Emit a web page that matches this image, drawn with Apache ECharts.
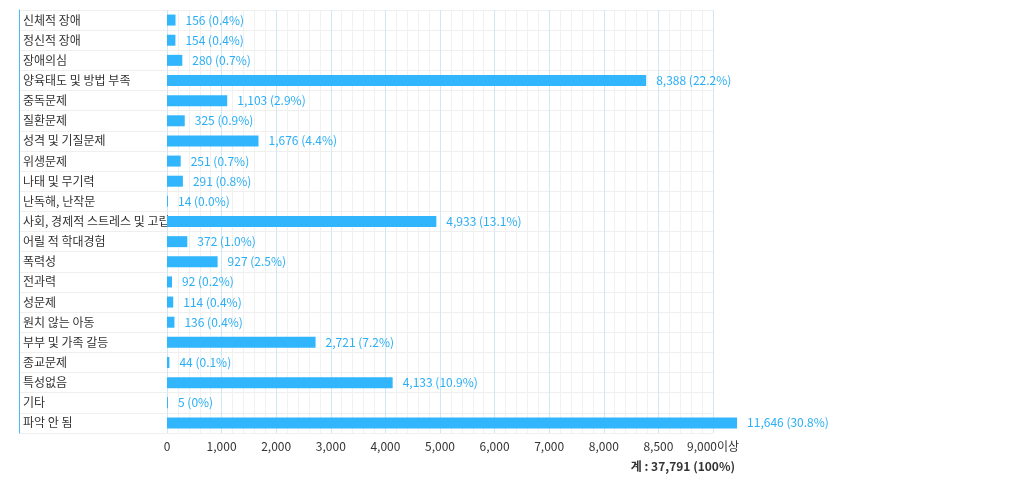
<!DOCTYPE html>
<html>
<head>
<meta charset="utf-8">
<script src="https://cdn.jsdelivr.net/npm/echarts@6/dist/echarts.min.js"></script>
<style>
  html, body { margin: 0; padding: 0; background: #fff; }
  #chart { width: 1030px; height: 483px; }
</style>
</head>
<body>
<div id="chart"></div>
<script>
const categories = [
  '신체적 장애', '정신적 장애', '장애의심', '양육태도 및 방법 부족', '중독문제',
  '질환문제', '성격 및 기질문제', '위생문제', '나태 및 무기력', '난독해, 난작문',
  '사회, 경제적 스트레스 및 고립', '어릴 적 학대경험', '폭력성', '전과력', '성문제',
  '원치 않는 아동', '부부 및 가족 갈등', '종교문제', '특성없음', '기타', '파악 안 됨'
]
const counts = [156, 154, 280, 8388, 1103, 325, 1676, 251, 291, 14, 4933, 372, 927, 92, 114, 136, 2721, 44, 4133, 5, 11646]
const percents = ['0.4', '0.4', '0.7', '22.2', '2.9', '0.9', '4.4', '0.7', '0.8', '0.0', '13.1', '1.0', '2.5', '0.2', '0.4', '0.4', '7.2', '0.1', '10.9', '0', '30.8']
const tickLabels = ['0', '1,000', '2,000', '3,000', '4,000', '5,000', '6,000', '7,000', '8,000', '8,500', '9,000이상']
const totalText = '계 : 37,791 (100%)'

// broken value scale: the axis is even up to 8,000, then 8,500 and 9,000이상
const scaleDomain = [0, 8000, 8500, 9000, 12000]
const scaleRange = [0, 8, 9, 10, 10.5]

const toAxis = (v) => {
  for (let i = 1; i < scaleDomain.length; i++) {
    if (v <= scaleDomain[i] || i === scaleDomain.length - 1) {
      const t = (v - scaleDomain[i - 1]) / (scaleDomain[i] - scaleDomain[i - 1])
      return scaleRange[i - 1] + t * (scaleRange[i] - scaleRange[i - 1])
    }
  }
}

const font = '"Noto Sans CJK KR", "Noto Sans", sans-serif'
const chart = echarts.init(document.getElementById('chart'))

const option = {
  animation: false,
  textStyle: { fontFamily: font },
  title: {
    text: totalText,
    right: 295,
    top: 460,
    padding: 0,
    textStyle: { fontSize: 12, fontWeight: 'bold', color: '#333', fontFamily: font }
  },
  grid: [
    { left: 19, right: 317, top: 10, bottom: 50 },
    { left: 167, right: 317, top: 10, bottom: 50 }
  ],
  xAxis: [
    { gridIndex: 0, type: 'value', show: false },
    {
      gridIndex: 1,
      type: 'value',
      min: 0,
      max: 10,
      interval: 1,
      axisLine: { show: false },
      axisTick: { show: false },
      axisLabel: {
        color: '#333',
        fontSize: 12,
        margin: 7,
        formatter: (v) => tickLabels[Math.round(v)] || ''
      },
      splitLine: { lineStyle: { color: '#cfe8f6', width: 1 } },
      minorTick: { show: false, splitNumber: 5 },
      minorSplitLine: { show: true, lineStyle: { color: '#f1f1f1', width: 1 } }
    }
  ],
  yAxis: [
    {
      gridIndex: 0,
      type: 'category',
      inverse: true,
      data: categories,
      axisLine: { lineStyle: { color: '#4dbaf0', width: 1 } },
      axisTick: { show: false },
      axisLabel: { inside: true, margin: 4, color: '#333', fontSize: 12 },
      splitLine: { show: true, lineStyle: { color: '#efefef', width: 1 } }
    },
    {
      gridIndex: 1,
      type: 'category',
      inverse: true,
      data: categories,
      axisLine: { show: false },
      axisTick: { show: false },
      axisLabel: { show: false }
    }
  ],
  series: [
    {
      type: 'bar',
      xAxisIndex: 1,
      yAxisIndex: 1,
      data: counts.map(toAxis),
      barWidth: 11,
      barMinHeight: 1,
      clip: false,
      itemStyle: { color: '#31b6fd' },
      label: {
        show: true,
        position: 'right',
        distance: 10,
        color: '#2aaef5',
        fontSize: 12,
        fontFamily: font,
        formatter: (p) => counts[p.dataIndex].toLocaleString('en-US') + ' (' + percents[p.dataIndex] + '%)'
      }
    }
  ]
}

chart.setOption(option)
window.addEventListener('resize', () => chart.resize())
</script>
</body>
</html>
